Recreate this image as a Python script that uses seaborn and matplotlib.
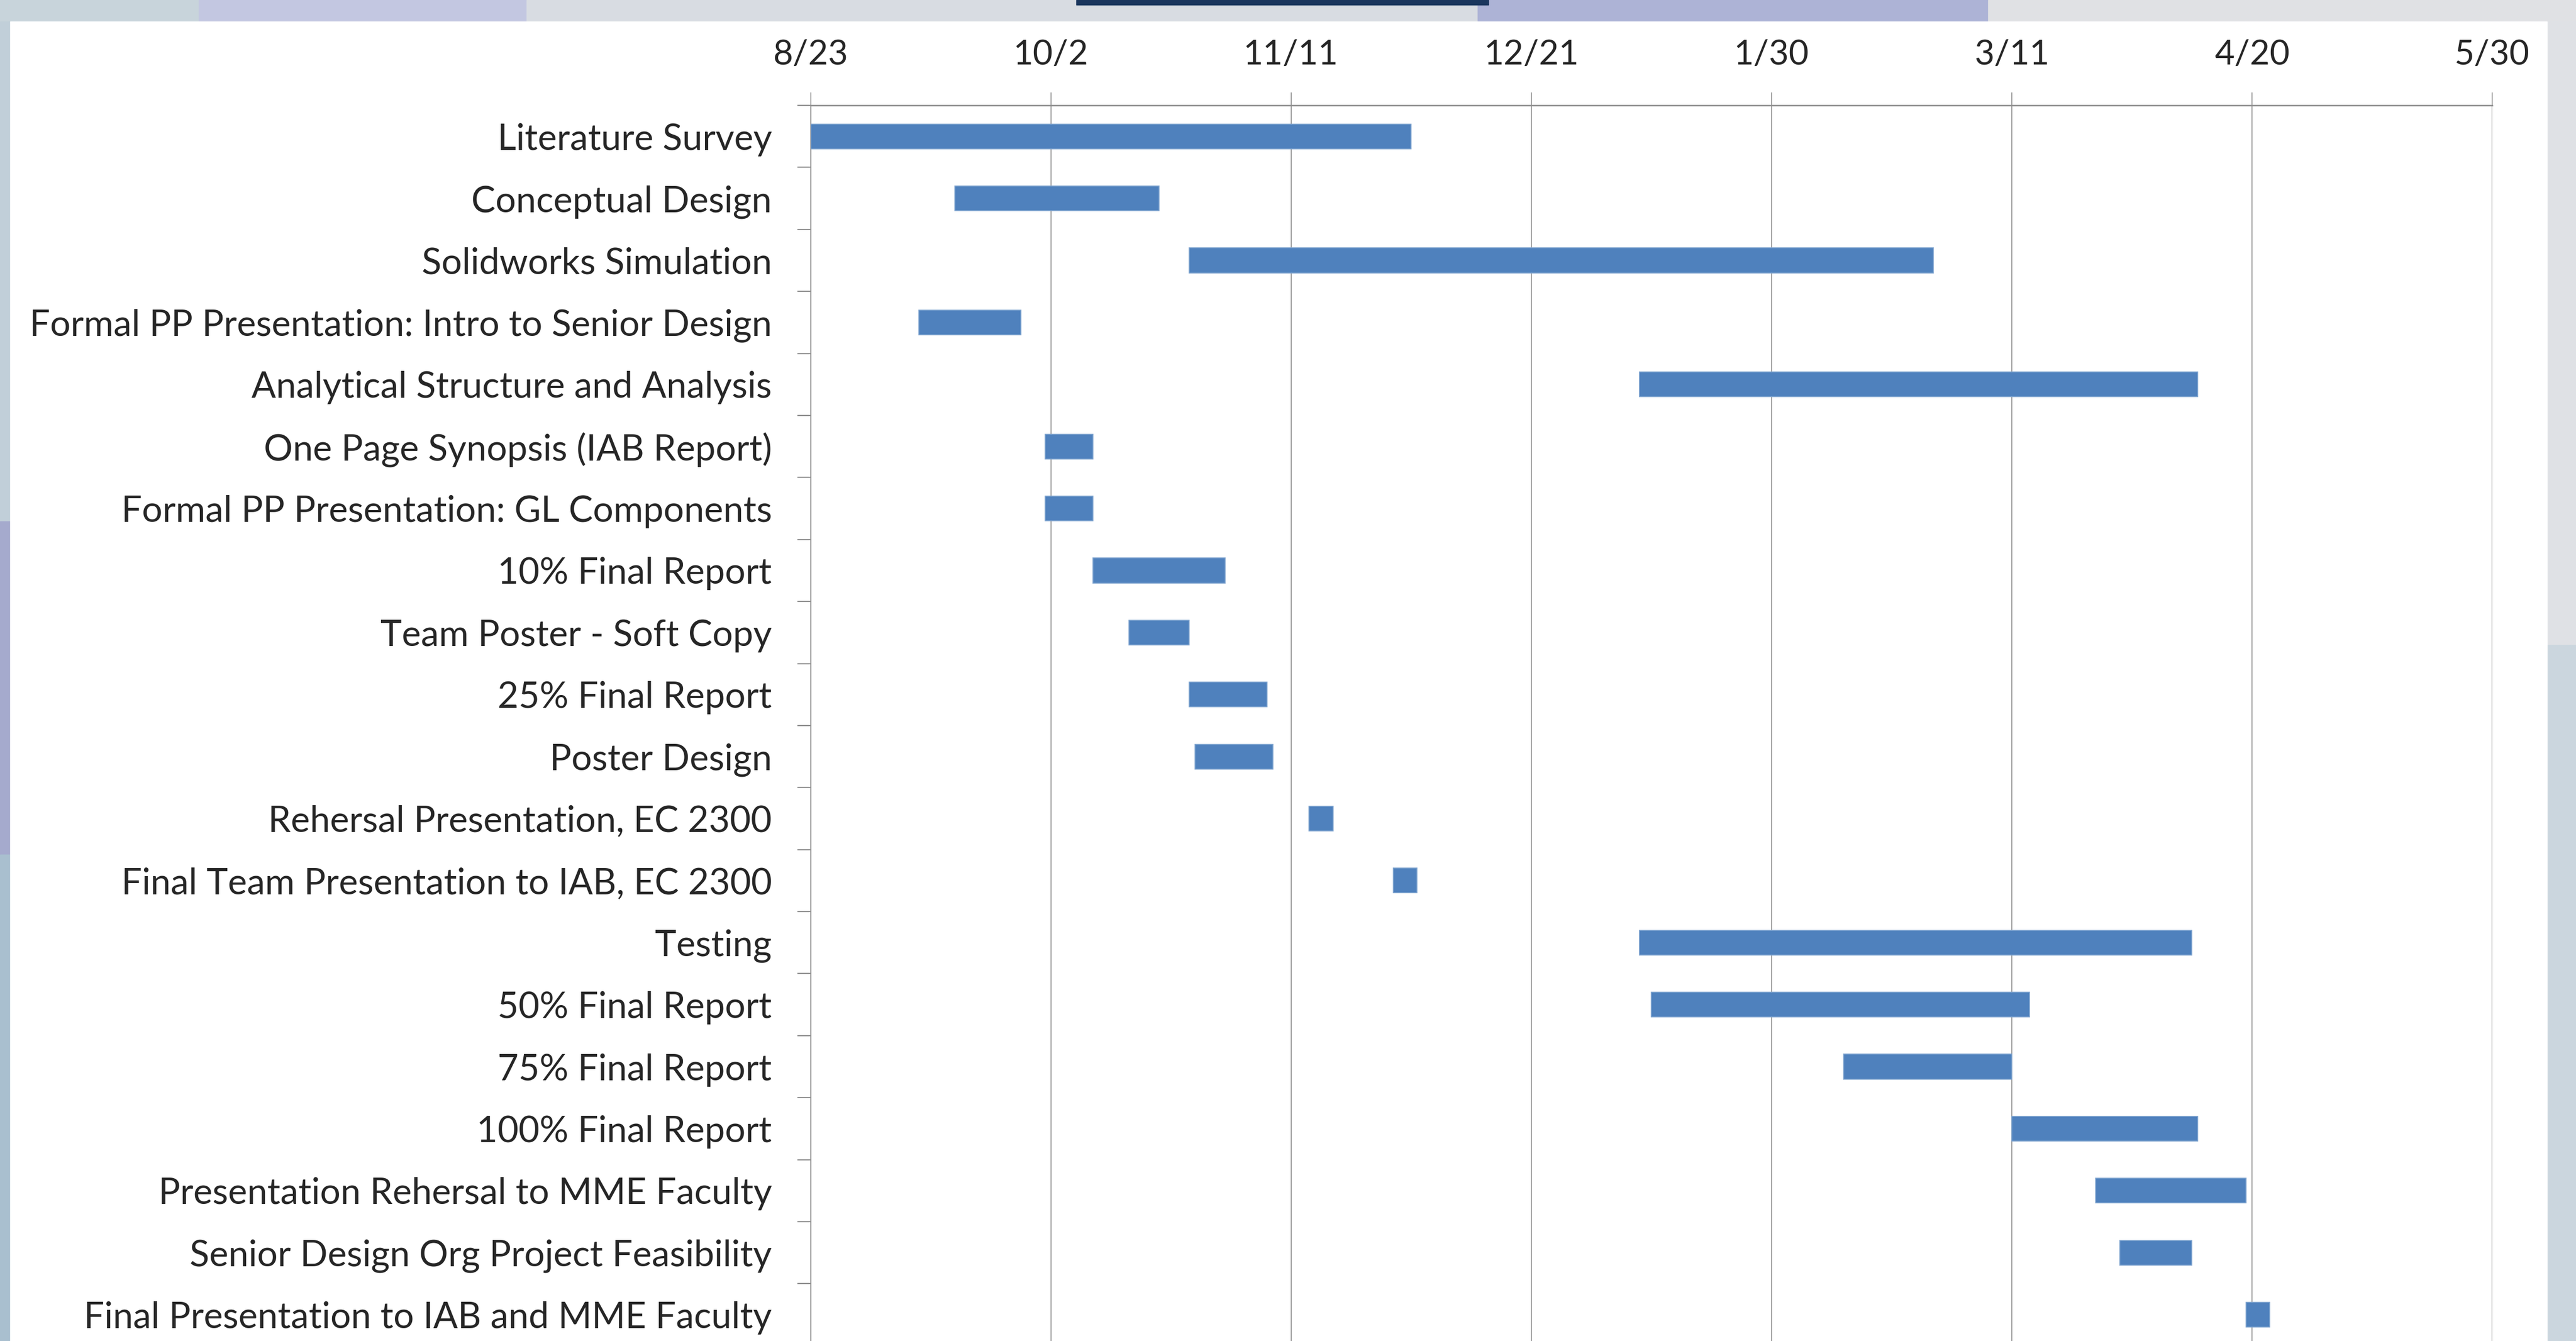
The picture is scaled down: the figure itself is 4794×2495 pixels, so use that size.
import pandas as pd
import numpy as np
import seaborn as sns
import matplotlib.pyplot as plt
from matplotlib.patches import Rectangle

tasks = [
    "Literature Survey",
    "Conceptual Design",
    "Solidworks Simulation",
    "Formal PP Presentation: Intro to Senior Design",
    "Analytical Structure and Analysis",
    "One Page Synopsis (IAB Report)",
    "Formal PP Presentation: GL Components",
    "10% Final Report",
    "Team Poster - Soft Copy",
    "25% Final Report",
    "Poster Design",
    "Rehersal Presentation, EC 2300",
    "Final Team Presentation to IAB, EC 2300",
    "Testing",
    "50% Final Report",
    "75% Final Report",
    "100% Final Report",
    "Presentation Rehersal to MME Faculty",
    "Senior Design Org Project Feasibility",
    "Final Presentation to IAB and MME Faculty",
]
start_dates = [
    "2012-08-23", "2012-09-16", "2012-10-25", "2012-09-10", "2013-01-08",
    "2012-10-01", "2012-10-01", "2012-10-09", "2012-10-15", "2012-10-25",
    "2012-10-26", "2012-11-14", "2012-11-28", "2013-01-08", "2013-01-10",
    "2013-02-11", "2013-03-11", "2013-03-25", "2013-03-29", "2013-04-19",
]
end_dates = [
    "2012-12-01", "2012-10-20", "2013-02-26", "2012-09-27", "2013-04-11",
    "2012-10-09", "2012-10-09", "2012-10-31", "2012-10-25", "2012-11-07",
    "2012-11-08", "2012-11-18", "2012-12-02", "2013-04-10", "2013-03-14",
    "2013-03-11", "2013-04-11", "2013-04-19", "2013-04-10", "2013-04-23",
]
tick_labels = ["8/23", "10/2", "11/11", "12/21", "1/30", "3/11", "4/20", "5/30"]
tick_step = 40  # days between date ticks
axis_start = pd.Timestamp("2012-08-23")

start = (pd.to_datetime(start_dates) - axis_start).days
end = (pd.to_datetime(end_dates) - axis_start).days
gantt = pd.DataFrame({"task": tasks, "start": start, "days": end - start})

sns.set_style("white")
plt.rcParams["font.family"] = ["Lato", "DejaVu Sans"]

fig = plt.figure(figsize=(47.94, 24.95), dpi=100)
fig.patch.set_facecolor("#d6dce3")

# slide background pieces around the white chart area
W, H = 4794, 2495
def fig_rect(x0, y0, x1, y1, color, z=0):
    fig.patches.append(Rectangle((x0 / W, 1 - y1 / H), (x1 - x0) / W, (y1 - y0) / H,
                                 transform=fig.transFigure, color=color, zorder=z))

fig_rect(0, 0, 370, 40, "#c8d4db")
fig_rect(370, 0, 980, 40, "#c3c7e1")
fig_rect(980, 0, 2750, 40, "#d8dce2")
fig_rect(2750, 0, 3700, 40, "#adb3d6")
fig_rect(3700, 0, W, 40, "#e0e1e4")
fig_rect(2003, 0, 2770, 9, "#1a365d", 1)
fig_rect(0, 40, 19, 970, "#c1cfd9")
fig_rect(0, 970, 19, 1590, "#a5aacd")
fig_rect(0, 1590, 19, H, "#a9bfcf")
fig_rect(4740, 40, W, 1200, "#dfe1e5")
fig_rect(4740, 1200, W, H, "#cbd6de")
fig_rect(19, 40, 4740, H, "white", 1)

ax = fig.add_axes([0.3147, -0.0035, 0.6527, 0.9249])
ax.set_facecolor("white")
ax.set_zorder(2)

sns.barplot(data=gantt, x="days", y="task", order=tasks,
            left=gantt["start"].to_numpy(), width=0.4,
            color="#4f81bd", saturation=1, edgecolor="#7fa4d0",
            linewidth=1.2, errorbar=None, ax=ax, zorder=3)

ax.set_xlim(0, tick_step * (len(tick_labels) - 1))
ax.set_ylim(len(tasks) - 0.5, -0.5)
ax.set_xticks(np.arange(len(tick_labels)) * tick_step)
ax.set_xticklabels(tick_labels)
ax.xaxis.tick_top()
ax.grid(axis="x", color="#8e8e8e", linewidth=1.2)
ax.set_axisbelow(True)
ax.set_xlabel("")
ax.set_ylabel("")

ax.tick_params(axis="x", which="major", top=True, bottom=False, direction="out",
               length=17, width=1.2, color="#8e8e8e", pad=30, labelsize=46)
ax.set_yticks(np.arange(len(tasks) + 1) - 0.5, minor=True)
ax.tick_params(axis="y", which="minor", left=True, direction="out",
               length=18, width=1.6, color="#8e8e8e")
ax.tick_params(axis="y", which="major", length=0, pad=52, labelsize=48.5)

for side in ["right", "bottom"]:
    ax.spines[side].set_visible(False)
ax.spines["top"].set_color("#8e8e8e")
ax.spines["top"].set_linewidth(2)
ax.spines["left"].set_color("#8e8e8e")
ax.spines["left"].set_linewidth(1.5)

fig.savefig("out.png", dpi=100, facecolor=fig.get_facecolor())
